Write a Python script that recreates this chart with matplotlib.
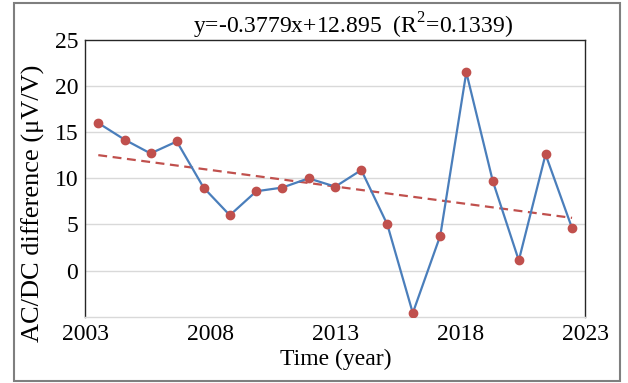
import matplotlib.pyplot as plt
from matplotlib.patches import Rectangle


years = [2003.52, 2004.57, 2005.61, 2006.66, 2007.73, 2008.78, 2009.84,
         2010.88, 2011.93, 2013.0, 2014.04, 2015.08, 2016.1, 2017.2,
         2018.24, 2019.3, 2020.34, 2021.41, 2022.47]
diff = [16.0, 14.2, 12.7, 14.0, 9.0, 6.0, 8.6, 9.0, 10.0, 9.1, 10.9,
        5.0, -4.6, 3.8, 21.5, 9.7, 1.1, 12.6, 4.6]

# Excel linear trend (x = point index 1..n)
SLOPE = -0.3779
INTERCEPT = 12.895
R2 = 0.1339

x_ticks = [2003, 2008, 2013, 2018, 2023]
y_ticks = [0, 5, 10, 15, 20, 25]

BLUE = "#4A7EBB"
RED = "#C0504D"


def main():
    plt.rcParams["font.family"] = ["Liberation Serif", "DejaVu Serif"]
    plt.rcParams["mathtext.fontset"] = "custom"
    plt.rcParams["mathtext.rm"] = "Liberation Serif"

    fig = plt.figure(figsize=(6.28, 3.83), dpi=100)
    ax = fig.add_axes([85.3 / 628, 1 - 316.7 / 383,
                       (585.3 - 85.3) / 628, (316.7 - 40) / 383])

    # outer frame of the chart area
    fig.patches.append(Rectangle((13.5 / 628, 2.5 / 383), (619.5 - 13.5) / 628,
                                 (380.5 - 2.5) / 383, transform=fig.transFigure,
                                 fill=False, edgecolor="#7F7F7F", linewidth=1.5))

    for y in [0, 5, 10, 15, 20]:
        ax.axhline(y, color="#D9D9D9", linewidth=1.0, zorder=0)

    # trend line evaluated at the first and last point
    n = len(diff)
    ax.plot([years[0], years[-1]],
            [SLOPE * 1 + INTERCEPT, SLOPE * n + INTERCEPT],
            linestyle=(0, (4, 2.5)), color=RED, linewidth=1.6, zorder=2)

    ax.plot(years, diff, color=BLUE, linewidth=1.6, zorder=3)
    ax.plot(years, diff, linestyle="none", marker="o", markersize=6,
            color=RED, zorder=4)

    ax.set_xlim(2003, 2023)
    ax.set_ylim(-5, 25)
    ax.set_xticks(x_ticks)
    ax.set_yticks(y_ticks)
    ax.tick_params(axis="both", length=0, labelsize=17, colors="black")
    ax.tick_params(axis="x", pad=5)
    ax.tick_params(axis="y", pad=5)

    for side in ["left", "top", "right"]:
        ax.spines[side].set_color("#262626")
        ax.spines[side].set_linewidth(1.0)
    ax.spines["bottom"].set_color("#D9D9D9")
    ax.spines["bottom"].set_linewidth(1.0)

    ax.set_xlabel("Time (year)", fontsize=17, labelpad=3)
    ax.set_ylabel("AC/DC difference (μV/V)", fontsize=19)
    ax.yaxis.set_label_coords(-0.08, 0.41)

    fig.text(353 / 628, 1 - 26 / 383,
             f"y={SLOPE}x+{INTERCEPT}  (R$^2$={R2})",
             ha="center", va="center", fontsize=17)

    fig.savefig("out.png", dpi=100)


if __name__ == "__main__":
    main()
